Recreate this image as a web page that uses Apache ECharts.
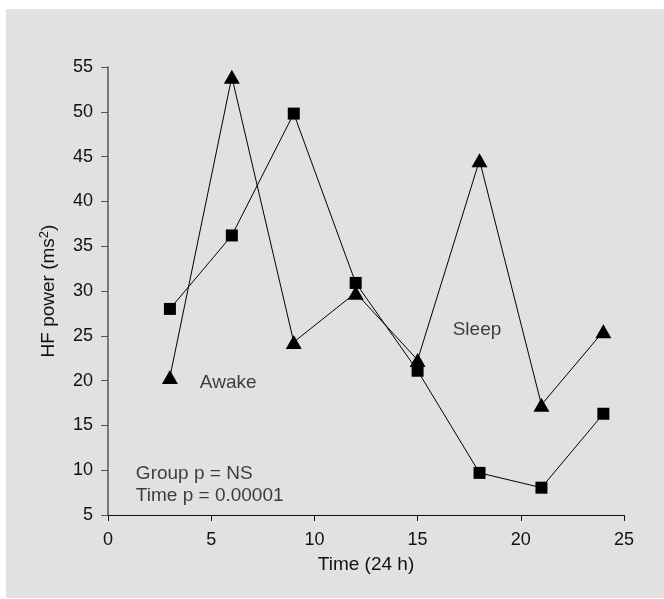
<!DOCTYPE html>
<html><head><meta charset="utf-8">
<script src="https://cdn.jsdelivr.net/npm/echarts@6/dist/echarts.min.js"></script>
<style>html,body{margin:0;padding:0;background:#fff}#c{width:664px;height:599px}</style>
</head><body><div id="c"></div>
<script>
const times = [3, 6, 9, 12, 15, 18, 21, 24];
const triangleValues = [20.4, 53.9, 24.3, 29.8, 22.3, 44.6, 17.3, 25.5];
const squareValues = [28.0, 36.2, 49.8, 30.9, 21.1, 9.7, 8.05, 16.3];
const xTicks = [0, 5, 10, 15, 20, 25];
const yTicks = [5, 10, 15, 20, 25, 30, 35, 40, 45, 50, 55];
const annotations = [
  {text: 'Awake', x: 4.45, y: 19.75},
  {text: 'Sleep', x: 16.7, y: 25.65},
  {text: 'Group p = NS', x: 1.35, y: 9.65},
  {text: 'Time p = 0.00001', x: 1.35, y: 7.15}
];

const font = '"Liberation Sans", Arial, sans-serif';
const chart = echarts.init(document.getElementById('c'), null, {renderer: 'canvas'});
const pair = (xs, ys) => xs.map((x, i) => [x, ys[i]]);

chart.setOption({
  backgroundColor: '#ffffff',
  animation: false,
  graphic: [{type: 'rect', left: 6, top: 9, shape: {width: 658, height: 589}, style: {fill: '#e1e1e1'}, z: -10}],
  grid: {left: 108, top: 67, right: 40, bottom: 84},
  xAxis: {
    type: 'value', min: xTicks[0], max: xTicks[xTicks.length - 1], interval: 5,
    name: 'Time (24 h)', nameLocation: 'middle', nameGap: 40,
    nameTextStyle: {fontFamily: font, fontSize: 19, color: '#111'},
    axisLine: {lineStyle: {color: '#111', width: 1.2}},
    axisTick: {length: 6, lineStyle: {color: '#111'}},
    axisLabel: {fontFamily: font, fontSize: 18, color: '#111', margin: 16},
    splitLine: {show: false}
  },
  yAxis: {
    type: 'value', min: yTicks[0], max: yTicks[yTicks.length - 1], interval: 5,
    name: '{a|HF power (ms}{s|2}{a|)}', nameLocation: 'middle', nameGap: 49, nameRotate: 90,
    nameTextStyle: {
      rich: {
        a: {fontFamily: font, fontSize: 19, color: '#111'},
        s: {fontFamily: font, fontSize: 13, color: '#111', verticalAlign: 'top', padding: [0, 0, 8, 0]}
      }
    },
    axisLine: {lineStyle: {color: '#555', width: 1.5}},
    axisTick: {length: 7, lineStyle: {color: '#555'}},
    axisLabel: {fontFamily: font, fontSize: 18, color: '#111', margin: 15},
    splitLine: {show: false}
  },
  series: [
    {
      type: 'line', data: pair(times, squareValues), symbol: 'rect', symbolSize: 12,
      lineStyle: {color: '#000', width: 1}, itemStyle: {color: '#000'}, z: 3
    },
    {
      type: 'line', data: pair(times, triangleValues), symbol: 'triangle', symbolSize: [16, 14],
      lineStyle: {color: '#000', width: 1}, itemStyle: {color: '#000'}, z: 4
    },
    {
      type: 'scatter', data: annotations.map(a => [a.x, a.y, a.text]), symbolSize: 0, silent: true,
      label: {
        show: true, position: 'right', distance: 0, formatter: p => p.value[2],
        fontFamily: font, fontSize: 19, color: '#111'
      }
    }
  ]
});
</script></body></html>
